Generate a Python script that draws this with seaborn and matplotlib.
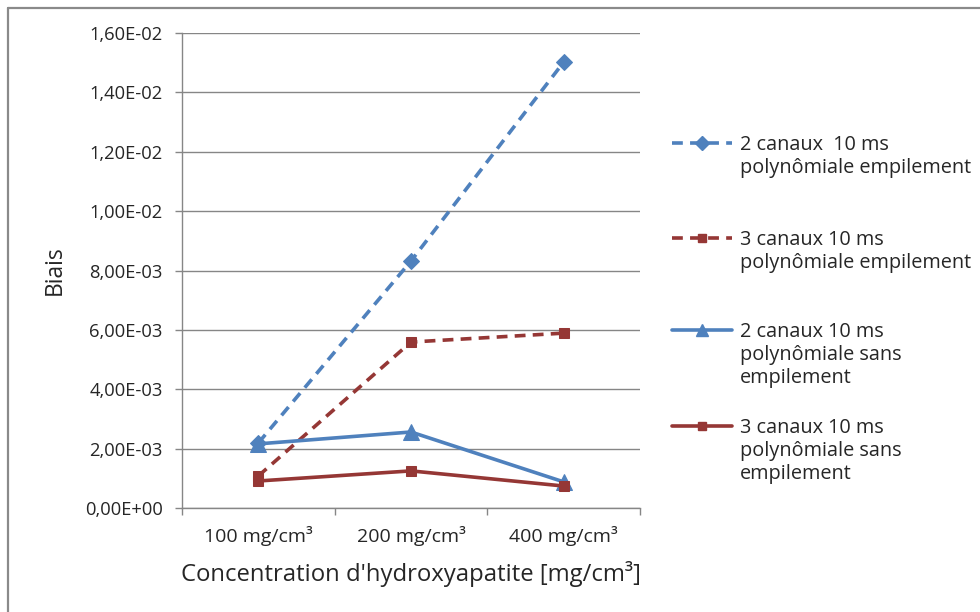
import matplotlib
matplotlib.use("Agg")
import matplotlib.pyplot as plt
from matplotlib.lines import Line2D
import pandas as pd
import seaborn as sns

# Data
categories = ["100 mg/cm³", "200 mg/cm³", "400 mg/cm³"]
s1_label = "2 canaux  10 ms\npolynômiale empilement"
s2_label = "3 canaux 10 ms\npolynômiale empilement"
s3_label = "2 canaux 10 ms\npolynômiale sans\nempilement"
s4_label = "3 canaux 10 ms\npolynômiale sans\nempilement"
s1_values = [0.00219, 0.00832, 0.01502]
s2_values = [0.00108, 0.00559, 0.00589]
s3_values = [0.00216, 0.00256, 0.00088]
s4_values = [0.00091, 0.00125, 0.00074]
y_ticks = [0.0, 0.002, 0.004, 0.006, 0.008, 0.010, 0.012, 0.014, 0.016]
y_tick_labels = ["0,00E+00", "2,00E-03", "4,00E-03", "6,00E-03", "8,00E-03",
                 "1,00E-02", "1,20E-02", "1,40E-02", "1,60E-02"]

BLUE = "#4F81BD"
RED = "#953735"
GRID = "#868686"
TEXT = "#262626"

sns.set_theme(style="white")
plt.rcParams["font.family"] = ["Open Sans", "DejaVu Sans"]

fig = plt.figure(figsize=(9.8, 6.12), dpi=100)
ax = fig.add_axes([182 / 980, 1 - 508 / 612, (640 - 182) / 980, (508 - 33) / 612])

series = [
    (s1_label, s1_values, BLUE, (3, 2), "D", 8),
    (s2_label, s2_values, RED, (3, 2), "s", 6.5),
    (s3_label, s3_values, BLUE, None, "^", 11),
    (s4_label, s4_values, RED, None, "s", 7.5),
]

handles = []
for label, vals, color, dash, marker, ms in series:
    df = pd.DataFrame({"x": range(len(categories)), "y": vals})
    ls = (0, dash) if dash else "-"
    sns.lineplot(data=df, x="x", y="y", ax=ax, color=color, linewidth=2.6,
                 linestyle=ls, marker=marker, markersize=ms,
                 markeredgecolor=color, markerfacecolor=color, legend=False)
    handles.append(Line2D([], [], color=color, linewidth=2.6, linestyle=ls,
                          marker=marker, markersize=ms * 0.85,
                          markeredgecolor=color, markerfacecolor=color))

ax.set_xlim(-0.5, 2.5)
ax.set_ylim(0, 0.016)
ax.set_yticks(y_ticks)
ax.set_yticklabels(y_tick_labels)
ax.set_xticks(range(len(categories)))
ax.set_xticklabels(categories)
ax.set_xticks([-0.5, 0.5, 1.5, 2.5], minor=True)

ax.grid(axis="y", color=GRID, linewidth=1.0)
ax.set_axisbelow(True)
for side in ["top", "right"]:
    ax.spines[side].set_visible(False)
for side in ["left", "bottom"]:
    ax.spines[side].set_color(GRID)
    ax.spines[side].set_linewidth(1.0)

ax.tick_params(axis="y", which="major", length=5, width=1, color=GRID,
               direction="out", pad=9, labelsize=13.2, labelcolor=TEXT, left=True)
ax.tick_params(axis="x", which="major", length=0, pad=13, labelsize=14,
               labelcolor=TEXT)
ax.tick_params(axis="x", which="minor", length=5, width=1, color=GRID,
               direction="out", bottom=True)

ax.set_xlabel("Concentration d'hydroxyapatite [mg/cm³]", fontsize=17.2,
              color=TEXT, labelpad=11)
ax.set_ylabel("Biais", fontsize=16.5, color=TEXT, labelpad=13)

# Legend: one entry per series, handle aligned with the first text line
entry_y = [145, 240, 332, 428]
line_step = 23
fig.canvas.draw()
for (label, *_), h, y in zip(series, handles, entry_y):
    lines = label.split("\n")
    leg = fig.legend([h], [lines[0]], loc="center left",
                     bbox_to_anchor=(672 / 980, 1 - y / 612), frameon=False,
                     borderpad=0, borderaxespad=0, handlelength=3.0,
                     handletextpad=0.42, fontsize=14.3)
    for t in leg.get_texts():
        t.set_color(TEXT)
    fig.canvas.draw()
    bb = leg.get_texts()[0].get_window_extent()
    x0 = bb.x0 / fig.bbox.width
    for k, extra in enumerate(lines[1:], start=1):
        fig.text(x0, 1 - (y + k * line_step) / 612, extra, fontsize=14.3,
                 color=TEXT, va="center", ha="left")

# Outer frame lines of the chart area
fig.add_artist(Line2D([8 / 980, 8 / 980], [0, 1 - 8 / 612], color="#8A8A8A",
                      linewidth=1.6, transform=fig.transFigure))
fig.add_artist(Line2D([8 / 980, 1], [1 - 8 / 612, 1 - 8 / 612], color="#8A8A8A",
                      linewidth=1.6, transform=fig.transFigure))

fig.savefig("out.png", dpi=100)
